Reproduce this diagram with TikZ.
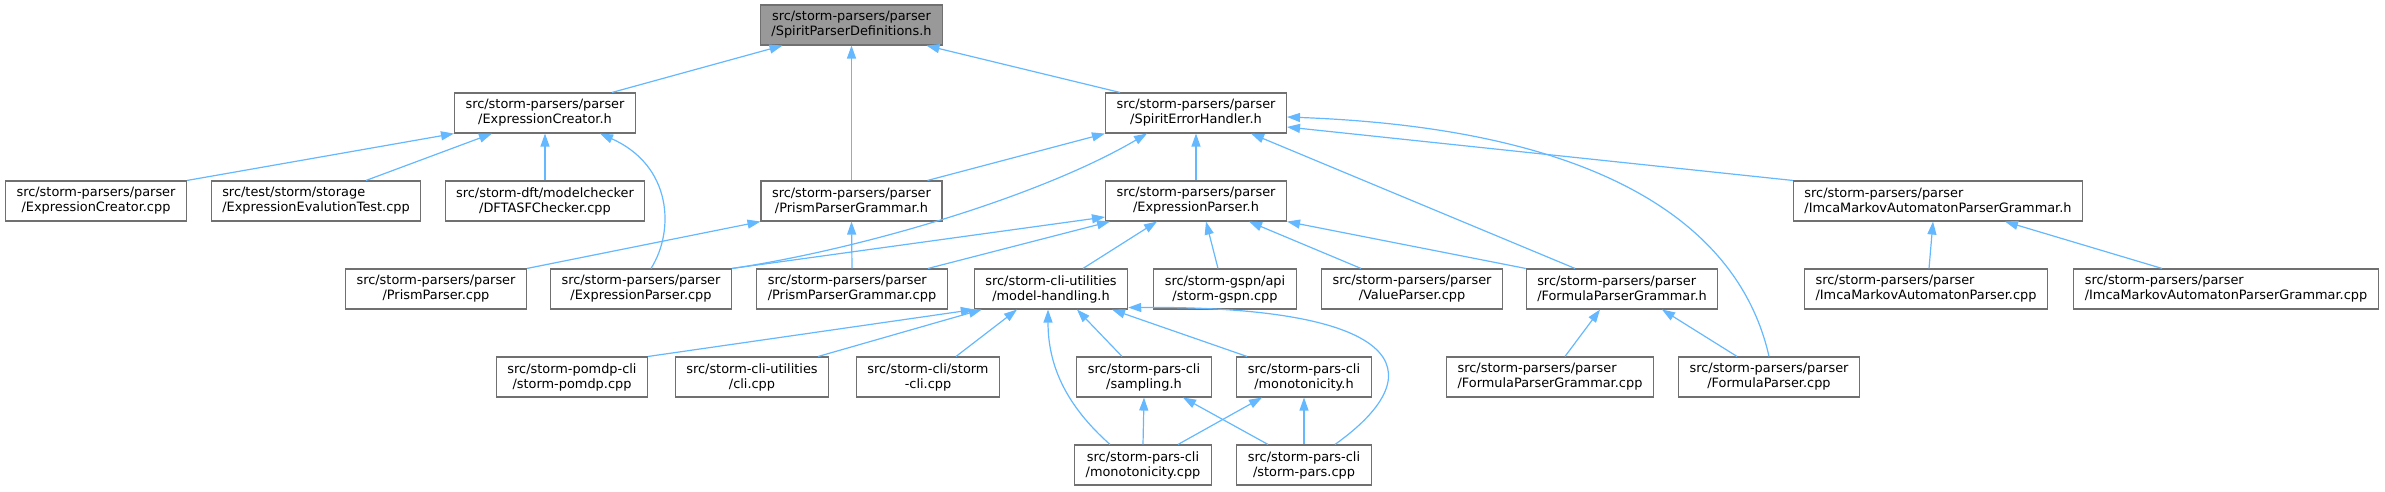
\documentclass[tikz,border=0pt]{standalone}
\usepackage{fontspec}
\setmainfont{DejaVu Sans}
\usetikzlibrary{arrows.meta}
\definecolor{EdgeBlue}{HTML}{63B8FF}
\definecolor{BoxGrey}{HTML}{707070}
\definecolor{FocusGrey}{HTML}{999999}

\begin{document}
\begin{tikzpicture}[
  x=1pt, y=-1pt,
  >={Triangle[length=13pt,width=9pt]},
  box/.style   = {draw=BoxGrey, fill=white, line width=1.1pt, align=center,
                  inner xsep=11pt, inner ysep=0pt, minimum height=40pt,
                  font=\fontsize{12.9}{15}\selectfont},
  lft/.style   = {box, align=left},
  focus/.style = {box, fill=FocusGrey},
  incl/.style  = {->, EdgeBlue, line width=1.2pt}
]
\useasboundingbox (0,0) rectangle (2385,491);

%% ---- rank 0 and 1 -----------------------------------------------------
\node[focus] (spdef) at (851.5,25) {src/storm-parsers/parser\\/SpiritParserDefinitions.h};
\node[box] (ecrh) at (545,113) {src/storm-parsers/parser\\/ExpressionCreator.h};
\node[box] (seh)  at (1196,113) {src/storm-parsers/parser\\/SpiritErrorHandler.h};

%% ---- rank 2 -----------------------------------------------------------
\node[box] (ecrcpp) at (96,201)  {src/storm-parsers/parser\\/ExpressionCreator.cpp};
\node[lft] (eet)    at (316,201) {src/test/storm/storage\\/ExpressionEvalutionTest.cpp};
\node[box] (dft)    at (545,201) {src/storm-dft/modelchecker\\/DFTASFChecker.cpp};
\node[box] (ppgh)   at (851.5,201) {src/storm-parsers/parser\\/PrismParserGrammar.h};
\node[box] (eph)    at (1196,201) {src/storm-parsers/parser\\/ExpressionParser.h};
\node[lft] (impgh)  at (1938,201) {src/storm-parsers/parser\\/ImcaMarkovAutomatonParserGrammar.h};

%% ---- rank 3 -----------------------------------------------------------
\node[box] (ppcpp)   at (436,289)  {src/storm-parsers/parser\\/PrismParser.cpp};
\node[box] (epcpp)   at (641,289)  {src/storm-parsers/parser\\/ExpressionParser.cpp};
\node[lft] (ppgcpp)  at (852,289)  {src/storm-parsers/parser\\/PrismParserGrammar.cpp};
\node[box] (mh)      at (1051,289) {src/storm-cli-utilities\\/model-handling.h};
\node[box] (gspn)    at (1225,289) {src/storm-gspn/api\\/storm-gspn.cpp};
\node[box] (vp)      at (1412,289) {src/storm-parsers/parser\\/ValueParser.cpp};
\node[lft] (fpgh)    at (1622,289) {src/storm-parsers/parser\\/FormulaParserGrammar.h};
\node[lft] (impcpp)  at (1926,289) {src/storm-parsers/parser\\/ImcaMarkovAutomatonParser.cpp};
\node[lft] (impgcpp) at (2226,289) {src/storm-parsers/parser\\/ImcaMarkovAutomatonParserGrammar.cpp};

%% ---- rank 4 and 5 -----------------------------------------------------
\node[box] (pomdp)   at (572,377)  {src/storm-pomdp-cli\\/storm-pomdp.cpp};
\node[box] (cli)     at (752,377)  {src/storm-cli-utilities\\/cli.cpp};
\node[box] (stcli)   at (928,377)  {src/storm-cli/storm\\-cli.cpp};
\node[box] (samp)    at (1144,377) {src/storm-pars-cli\\/sampling.h};
\node[box] (monoh)   at (1304,377) {src/storm-pars-cli\\/monotonicity.h};
\node[lft] (fpgcpp)  at (1550,377) {src/storm-parsers/parser\\/FormulaParserGrammar.cpp};
\node[box] (fpcpp)   at (1769,377) {src/storm-parsers/parser\\/FormulaParser.cpp};
\node[box] (monocpp) at (1143,465) {src/storm-pars-cli\\/monotonicity.cpp};
\node[box] (parscpp) at (1304,465) {src/storm-pars-cli\\/storm-pars.cpp};

%% ---- into SpiritParserDefinitions.h ------------------------------------
\draw[incl] ([xshift=67pt]ecrh.north) -- ([xshift=-69pt]spdef.south);
\draw[incl] (ppgh.north) -- (spdef.south);
\draw[incl] ([xshift=-76pt]seh.north) -- ([xshift=75pt]spdef.south);

%% ---- into ExpressionCreator.h -------------------------------------------
\draw[incl] (ecrcpp.north east) -- (ecrh.south west);
\draw[incl] ([xshift=50pt]eet.north) -- ([xshift=-53pt]ecrh.south);
\draw[incl] (dft.north) -- (ecrh.south);
\draw[incl] ([xshift=10pt]epcpp.north) .. controls +(24,-38) and +(72,32) .. ([xshift=55pt]ecrh.south);

%% ---- into SpiritErrorHandler.h ------------------------------------------
\draw[incl] ([xshift=76pt]ppgh.north) -- (seh.south west);
\draw[incl] (epcpp.north east) .. controls +(128,-19) and +(-107,63) .. ([xshift=-49pt]seh.south);
\draw[incl] (eph.north) -- (seh.south);
\draw[incl] ([xshift=-47pt]fpgh.north) -- ([xshift=55pt]seh.south);
\draw[incl] (impgh.north west) -- ([yshift=-14pt]seh.east);
\draw[incl] (fpcpp.north) .. controls +(-24,-107) and +(353,13) .. ([yshift=-4pt]seh.east);

%% ---- into ExpressionParser.h --------------------------------------------
\draw[incl] (epcpp.north east) -- ([yshift=-16pt]eph.west);
\draw[incl] ([xshift=76pt]ppgcpp.north) -- ([xshift=5pt]eph.south west);
\draw[incl] ([xshift=32pt]mh.north) -- ([xshift=-39pt]eph.south);
\draw[incl] ([xshift=-7pt]gspn.north) -- ([xshift=10pt]eph.south);
\draw[incl] ([xshift=-51pt]vp.north) -- ([xshift=53pt]eph.south);
\draw[incl] (fpgh.north west) -- (eph.south east);

%% ---- into PrismParserGrammar.h, Imca...Grammar.h, FormulaParserGrammar.h
\draw[incl] (ppcpp.north east) -- (ppgh.south west);
\draw[incl] (ppgcpp.north) -- (ppgh.south);
\draw[incl] ([xshift=3pt]impcpp.north) -- ([xshift=-5pt]impgh.south);
\draw[incl] ([xshift=-64pt]impgcpp.north) -- ([xshift=67pt]impgh.south);
\draw[incl] ([xshift=15pt]fpgcpp.north) -- ([xshift=-22pt]fpgh.south);
\draw[incl] ([xshift=-32pt]fpcpp.north) -- ([xshift=40pt]fpgh.south);

%% ---- into model-handling.h ----------------------------------------------
\draw[incl] (pomdp.north east) -- (mh.south west);
\draw[incl] ([xshift=-11pt]cli.north east) -- ([xshift=8pt]mh.south west);
\draw[incl] ([xshift=28pt]stcli.north) -- ([xshift=-34pt]mh.south);
\draw[incl] ([xshift=-33pt]monocpp.north) .. controls +(-45,-40) and +(0,55) .. ([xshift=-3pt]mh.south);
\draw[incl] ([xshift=-22pt]samp.north) -- ([xshift=26pt]mh.south);
\draw[incl] ([xshift=-57pt]monoh.north) -- ([xshift=61pt]mh.south);
\draw[incl] ([xshift=31pt]parscpp.north) .. controls +(105,-75) and +(270,-2) .. ([yshift=2pt]mh.south east);

%% ---- pars-cli bottom rank -----------------------------------------------
\draw[incl] (monocpp.north) -- (samp.south);
\draw[incl] ([xshift=-36pt]parscpp.north) -- ([xshift=39pt]samp.south);
\draw[incl] ([xshift=35pt]monocpp.north) -- ([xshift=-42pt]monoh.south);
\draw[incl] (parscpp.north) -- (monoh.south);

\end{tikzpicture}
\end{document}
